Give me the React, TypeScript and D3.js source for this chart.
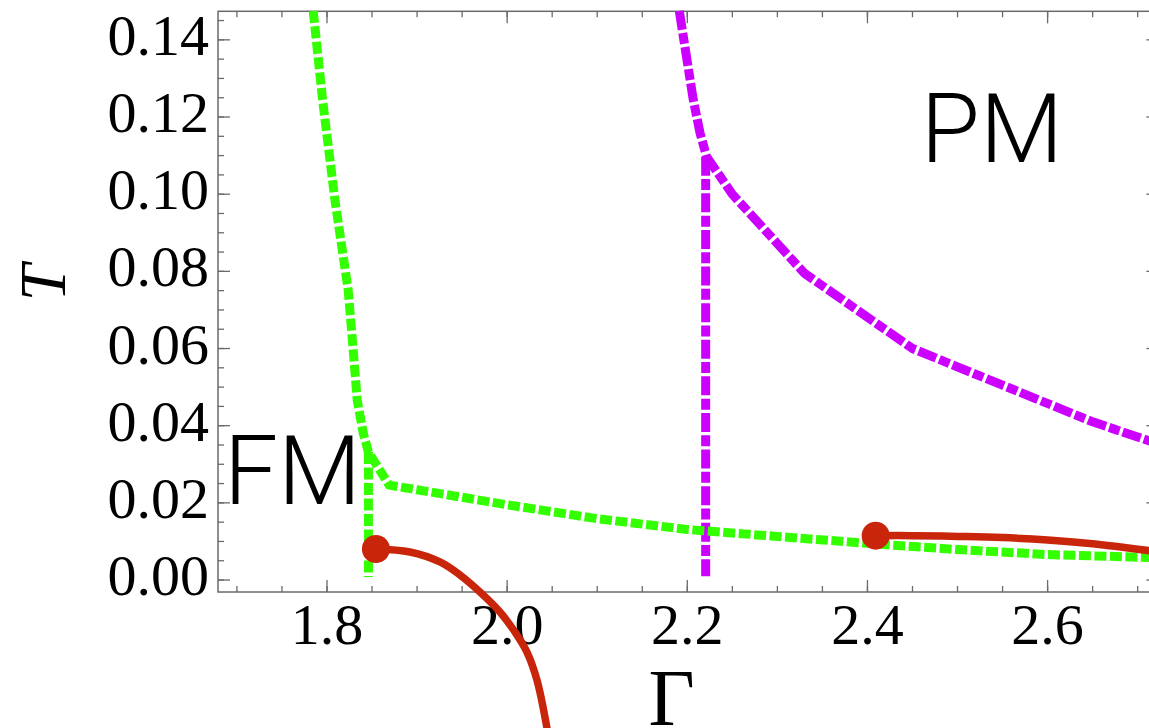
import React from "react";
import * as d3 from "d3";

const W = 1149;
const H = 728;

// axis domains
const xDomain: [number, number] = [1.679, 2.723];
const yDomain: [number, number] = [-0.0031, 0.1474];

// tick values
const xMajorTicks = [1.8, 2.0, 2.2, 2.4, 2.6];
const xTickLabels = ["1.8", "2.0", "2.2", "2.4", "2.6"];
const yMajorTicks = [0, 0.02, 0.04, 0.06, 0.08, 0.1, 0.12, 0.14];
const yTickLabels = ["0.00", "0.02", "0.04", "0.06", "0.08", "0.10", "0.12", "0.14"];
const xMinorTicks = d3.range(0, 21).map((i) => 1.7 + i * 0.05);
const yMinorTicks = d3.range(0, 30).map((i) => i * 0.005);

// green (dashed) boundary
const greenMain: [number, number][] = [
  [1.7847, 0.1475],
  [1.7951, 0.1245],
  [1.8088, 0.0985],
  [1.8235, 0.0752],
  [1.8291, 0.0596],
  [1.8335, 0.0467],
  [1.8402, 0.0381],
  [1.846, 0.0332],
  [1.869, 0.0246],
  [1.9, 0.0234],
  [2.0, 0.0195],
  [2.1, 0.0159],
  [2.2, 0.0131],
  [2.3, 0.0113],
  [2.4, 0.0095],
  [2.5, 0.0079],
  [2.6, 0.0066],
  [2.72, 0.0058],
];
const greenVertical: [number, number][] = [
  [1.846, 0.0332],
  [1.846, 0.0008],
];

// magenta (dash-dot) boundary
const magentaMain: [number, number][] = [
  [2.1911, 0.1475],
  [2.2066, 0.1245],
  [2.2141, 0.1159],
  [2.2215, 0.1097],
  [2.25, 0.1],
  [2.33, 0.0795],
  [2.45, 0.06],
  [2.55, 0.0505],
  [2.65, 0.041],
  [2.72, 0.0355],
];
const magentaVertical: [number, number][] = [
  [2.2204, 0.1097],
  [2.2204, 0.001],
];

// red solid curves
const redLeft: [number, number][] = [
  [1.8543, 0.00804],
  [1.8921, 0.00727],
  [1.9254, 0.00468],
  [1.9476, 0.00131],
  [1.9698, -0.0031],
  [1.992, -0.00828],
  [2.0087, -0.01347],
  [2.022, -0.01866],
  [2.0331, -0.02591],
  [2.0442, -0.03835],
  [2.0498, -0.0466],
];
const redRight: [number, number][] = [
  [2.4091, 0.0115],
  [2.45, 0.0115],
  [2.5, 0.0113],
  [2.55, 0.011],
  [2.6, 0.0104],
  [2.65, 0.0094],
  [2.7, 0.008],
  [2.74, 0.0068],
];
const redDots: [number, number][] = [
  [1.8543, 0.00804],
  [2.4091, 0.0115],
];

// region labels
const regionLabels = [
  { text: "FM", g: 1.6834, t: 0.0197 },
  { text: "PM", g: 2.457, t: 0.1083 },
];

const GREEN = "#33ff00";
const MAGENTA = "#cc00ff";
const RED = "#c8250a";
const AXIS = "#6a6a6a";

export default function App() {
  const left = 218;
  const right = 1158.4;
  const top = 11.3;
  const bottom = 592;
  const x = d3.scaleLinear().domain(xDomain).range([left, right]);
  const y = d3.scaleLinear().domain(yDomain).range([bottom, top]);

  const line = d3
    .line<[number, number]>()
    .x((d) => x(d[0]))
    .y((d) => y(d[1]));
  const smooth = d3
    .line<[number, number]>()
    .x((d) => x(d[0]))
    .y((d) => y(d[1]))
    .curve(d3.curveCatmullRom.alpha(0.5));

  const majorLen = 12;
  const minorLen = 6;
  const tickFont = "'Liberation Serif', 'Times New Roman', Times, serif";

  return (
    <svg
      width={W}
      height={H}
      style={{ position: "absolute", left: 0, top: 0, background: "#fff" }}
    >
      <rect x={0} y={0} width={W} height={H} fill="#fff" />

      {/* frame */}
      <rect
        x={left}
        y={top}
        width={right - left}
        height={bottom - top}
        fill="none"
        stroke={AXIS}
        strokeWidth={1.5}
      />

      {/* x ticks (bottom & top) */}
      {xMinorTicks.map((v, i) => (
        <g key={"xm" + i} stroke={AXIS} strokeWidth={1.3}>
          <line x1={x(v)} x2={x(v)} y1={bottom} y2={bottom - minorLen} />
          <line x1={x(v)} x2={x(v)} y1={top} y2={top + minorLen} />
        </g>
      ))}
      {xMajorTicks.map((v, i) => (
        <g key={"xM" + i} stroke={AXIS} strokeWidth={1.3}>
          <line x1={x(v)} x2={x(v)} y1={bottom} y2={bottom - majorLen} />
          <line x1={x(v)} x2={x(v)} y1={top} y2={top + majorLen} />
        </g>
      ))}
      {/* y ticks (left & right) */}
      {yMinorTicks.map((v, i) => (
        <g key={"ym" + i} stroke={AXIS} strokeWidth={1.3}>
          <line x1={left} x2={left + minorLen} y1={y(v)} y2={y(v)} />
          <line x1={right} x2={right - minorLen} y1={y(v)} y2={y(v)} />
        </g>
      ))}
      {yMajorTicks.map((v, i) => (
        <g key={"yM" + i} stroke={AXIS} strokeWidth={1.3}>
          <line x1={left} x2={left + majorLen} y1={y(v)} y2={y(v)} />
          <line x1={right} x2={right - majorLen} y1={y(v)} y2={y(v)} />
        </g>
      ))}

      {/* tick labels */}
      {xMajorTicks.map((v, i) => (
        <text
          key={"xl" + i}
          x={x(v)}
          y={bottom + 52}
          textAnchor="middle"
          fontFamily={tickFont}
          fontSize={58}
          fill="#000"
        >
          {xTickLabels[i]}
        </text>
      ))}
      {yMajorTicks.map((v, i) => (
        <text
          key={"yl" + i}
          x={209}
          y={y(v) + 15}
          textAnchor="end"
          fontFamily={tickFont}
          fontSize={58}
          fill="#000"
        >
          {yTickLabels[i]}
        </text>
      ))}

      {/* axis titles */}
      <text
        x={671.5}
        y={725}
        textAnchor="middle"
        fontFamily={tickFont}
        fontSize={80}
        fill="#000"
      >
        Γ
      </text>
      <text
        transform="translate(65,283) rotate(-90)"
        textAnchor="middle"
        fontFamily={tickFont}
        fontStyle="italic"
        fontSize={66}
        fill="#000"
      >
        T
      </text>

      {/* magenta boundary */}
      <path
        d={line(magentaVertical) || ""}
        fill="none"
        stroke={MAGENTA}
        strokeWidth={9}
        strokeDasharray="19 3.3 11 3.3"
      />
      <path
        d={line(magentaMain) || ""}
        fill="none"
        stroke={MAGENTA}
        strokeWidth={9}
        strokeDasharray="19 3.3 11 3.3"
        strokeLinejoin="round"
      />

      {/* green boundary */}
      <path
        d={line(greenVertical) || ""}
        fill="none"
        stroke={GREEN}
        strokeWidth={9}
        strokeDasharray="12 3.5"
      />
      <path
        d={line(greenMain) || ""}
        fill="none"
        stroke={GREEN}
        strokeWidth={9}
        strokeDasharray="12 3.5"
        strokeLinejoin="round"
      />

      {/* red curves */}
      <path d={smooth(redLeft) || ""} fill="none" stroke={RED} strokeWidth={7.5} />
      <path d={smooth(redRight) || ""} fill="none" stroke={RED} strokeWidth={7.5} />
      {redDots.map((d, i) => (
        <circle key={"dot" + i} cx={x(d[0])} cy={y(d[1])} r={14} fill={RED} />
      ))}

      {/* region labels */}
      {regionLabels.map((l, i) => (
        <text
          key={"rl" + i}
          x={x(l.g) + 2}
          y={y(l.t)}
          fontFamily="Roboto, 'Liberation Sans', Arial, sans-serif"
          fontWeight={300}
          fontSize={96}
          fill="#000"
        >
          {l.text}
        </text>
      ))}
    </svg>
  );
}
